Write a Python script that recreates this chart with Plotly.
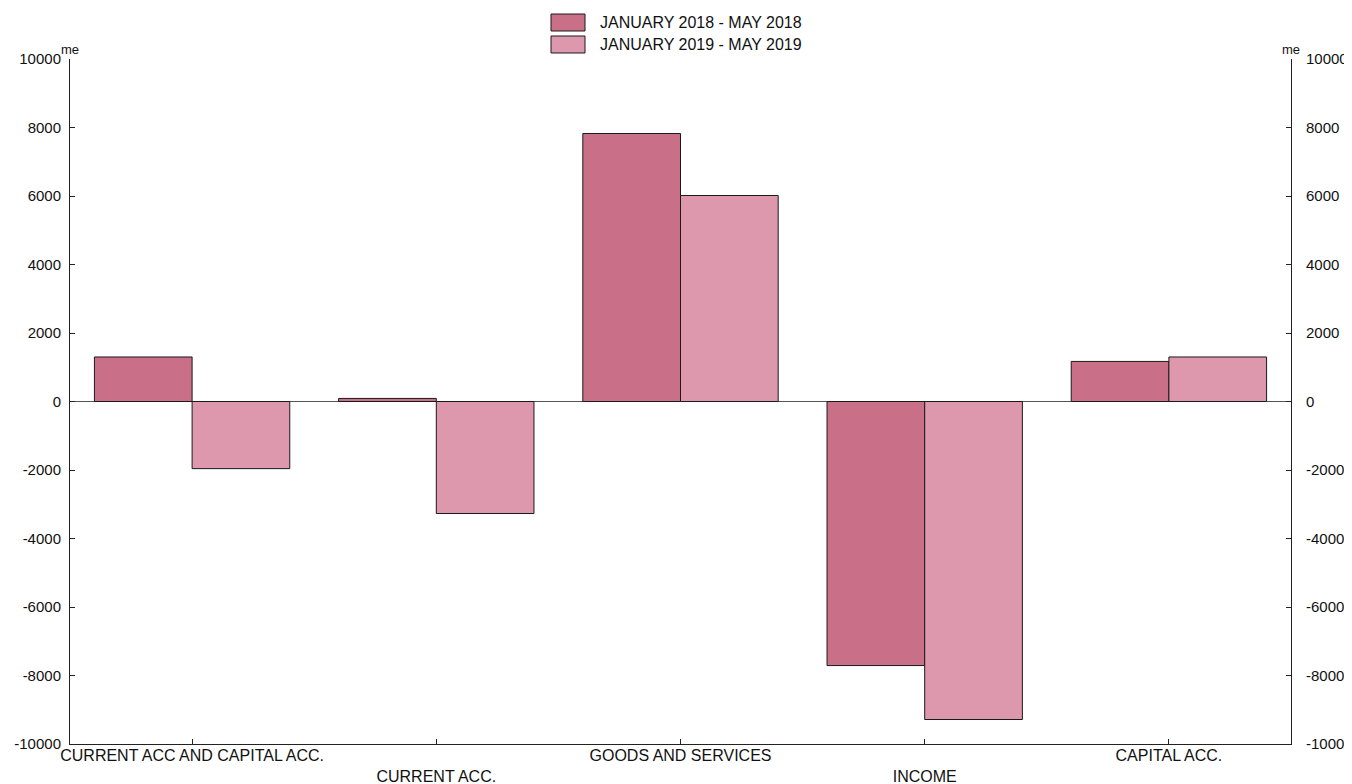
import plotly.graph_objects as go

categories = ["CURRENT ACC AND CAPITAL ACC.", "CURRENT ACC.", "GOODS AND SERVICES", "INCOME", "CAPITAL ACC."]
series_names = ["JANUARY 2018 - MAY 2018", "JANUARY 2019 - MAY 2019"]
values_2018 = [1300, 90, 7825, -7710, 1170]
values_2019 = [-1960, -3270, 6015, -9285, 1300]
y_ticks = list(range(-10000, 10001, 2000))
y_ticktext = [str(v) for v in y_ticks]
unit_label = "me"

colors = ["#CA6F88", "#DD98AD"]
edge = "#1a1a1a"
font_family = "Liberation Sans, Arial, Helvetica, sans-serif"

# page has 8px body margin; plot area in page px: x 70..1291, y 59..744
OFF = 8
W, H = 1352, 784
PL, PR, PT, PB = 70, 1291, 59, 744
L, T = PL - OFF, PT - OFF
R = W + OFF - PR
B = H + OFF - PB
pw, ph = PR - PL, PB - PT


def px_x(px):
    return (px - PL) / pw


def px_y(py):
    return 1 - (py - PT) / ph


fig = go.Figure()
for name, vals, col in zip(series_names, [values_2018, values_2019], colors):
    fig.add_trace(go.Bar(
        x=categories, y=vals, name=name, showlegend=False,
        marker=dict(color=col, line=dict(color=edge, width=1)),
    ))
# invisible trace to activate right axis
fig.add_trace(go.Scatter(x=categories, y=[None] * len(categories), yaxis="y2",
                         showlegend=False, hoverinfo="skip", mode="markers"))

ticktext = [c if i % 2 == 0 else "<br>" + c for i, c in enumerate(categories)]

axis_common = dict(
    range=[-10000, 10000], tickvals=y_ticks, ticktext=y_ticktext, ticks="inside", ticklen=5,
    tickcolor="#222", showline=True, linecolor="#222", linewidth=1, automargin=False,
    showgrid=False, tickfont=dict(size=15, color="#111"),
)

fig.update_layout(
    width=W, height=H,
    margin=dict(l=L, r=R, t=T, b=B, autoexpand=False),
    paper_bgcolor="white", plot_bgcolor="white",
    font=dict(family=font_family, size=15, color="#111"),
    barmode="group", bargap=0.2, bargroupgap=0,
    showlegend=False,
    xaxis=dict(type="category", range=[-0.5, 4.5], tickvals=categories, ticktext=ticktext,
               ticks="inside", ticklen=5, tickcolor="#222", showline=True, automargin=False,
               linecolor="#222", linewidth=1, showgrid=False, ticklabelstandoff=-3,
               tickfont=dict(size=16, color="#111")),
    yaxis=dict(**axis_common, zeroline=True, zerolinecolor="#555", zerolinewidth=1,
               ticklabelstandoff=5),
    yaxis2=dict(**axis_common, overlaying="y", side="right", zeroline=False,
                ticklabelstandoff=11),
)

# legend drawn as boxes + text
for i, (name, col) in enumerate(zip(series_names, colors)):
    y0, y1 = 14 + 22 * i, 31 + 22 * i
    fig.add_shape(type="rect", xref="paper", yref="paper",
                  x0=px_x(551), x1=px_x(585), y0=px_y(y1), y1=px_y(y0),
                  fillcolor=col, line=dict(color=edge, width=1))
    fig.add_annotation(text=name, xref="paper", yref="paper", x=px_x(598), y=px_y((y0 + y1) / 2),
                       xanchor="left", yanchor="middle", showarrow=False, font=dict(size=16))

fig.add_annotation(text=unit_label, xref="paper", yref="paper", x=0, y=1, xanchor="center",
                   yanchor="bottom", showarrow=False, font=dict(size=13), xshift=0, yshift=0)
fig.add_annotation(text=unit_label, xref="paper", yref="paper", x=1, y=1, xanchor="center",
                   yanchor="bottom", showarrow=False, font=dict(size=13), xshift=0, yshift=0)

fig.write_html("out.html")
